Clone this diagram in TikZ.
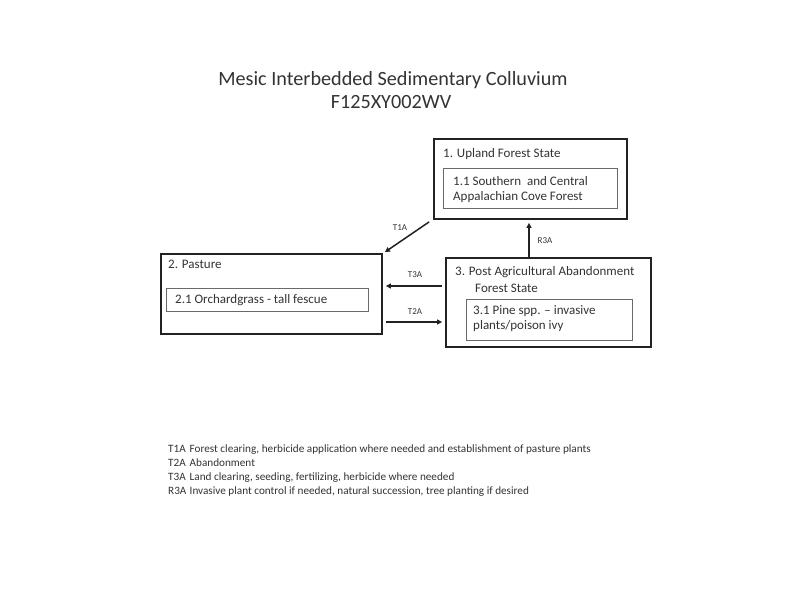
\documentclass[tikz,border=0pt]{standalone}
\usepackage{fontspec}
\setmainfont{Carlito}
\usetikzlibrary{arrows.meta,calc}
\definecolor{txt}{HTML}{333333}
\definecolor{edge}{HTML}{222222}
\definecolor{inner}{HTML}{6A6A6A}
\tikzset{
  outerbox/.style={draw=edge,line width=1.8pt,inner sep=0pt,minimum width=#1},
  innerbox/.style={draw=inner,line width=0.9pt,inner sep=0pt},
  boxtext/.style={anchor=base west,inner sep=0pt,text=txt,font=\fontsize{13}{15}\selectfont},
  arrlabel/.style={inner sep=0pt,text=txt,font=\fontsize{9}{10}\selectfont},
  legend/.style={anchor=base west,inner sep=0pt,text=txt,font=\fontsize{11.2}{13}\selectfont},
  conn/.style={draw=edge,line width=1.5pt,-{Triangle[length=5pt,width=5pt]}}
}
\newcommand{\lgcode}[1]{\makebox[21.5pt][l]{#1}}
\begin{document}
\begin{tikzpicture}[x=1pt,y=-1pt]
\useasboundingbox[fill=white] (0,0) rectangle (800,600);
% title
\node[inner sep=0pt,anchor=base,text=txt,font=\fontsize{20.2}{22}\selectfont] (t1) at (393,85) {Mesic Interbedded Sedimentary Colluvium};
\node[inner sep=0pt,anchor=base,text=txt,font=\fontsize{20.2}{22}\selectfont] (t2) at (391,108) {F125XY002WV};
% boxes
\node[outerbox=193pt,minimum height=80pt] (b1) at (530.5,179) {};
\node[innerbox,minimum width=174pt,minimum height=40pt] (i1) at (530,188) {};
\node[outerbox=221pt,minimum height=80pt] (b2) at (271.5,294) {};
\node[innerbox,minimum width=202pt,minimum height=23pt] (i2) at (267,299.5) {};
\node[outerbox=205pt,minimum height=89pt] (b3) at (548.5,302.5) {};
\node[innerbox,minimum width=166pt,minimum height=41pt] (i3) at (549,319.5) {};
% box texts
\node[boxtext] (s1) at (443,157) {1. Upland Forest State};
\node[boxtext] (s11a) at (453,185) {1.1 Southern\ \ and Central};
\node[boxtext] (s11b) at (453,200) {Appalachian Cove Forest};
\node[boxtext] (s2) at (168,268) {2. Pasture};
\node[boxtext] (s21) at (175,303) {2.1 Orchardgrass - tall fescue};
\node[boxtext] (s3a) at (455,275) {3. Post Agricultural Abandonment};
\node[boxtext] (s3b) at (475,292) {Forest State};
\node[boxtext] (s31a) at (473,314) {3.1 Pine spp. -- invasive};
\node[boxtext] (s31b) at (473,329) {plants/poison ivy};
% connectors
\coordinate (t1s) at ([xshift=-4pt,yshift=-2pt]b1.south west);
\coordinate (t1e) at ([xshift=2pt,yshift=1pt]b2.north east);
\draw[conn] (t1s) -- (t1e);
\node[arrlabel] (lt1) at (400,228) {T1A};
\coordinate (r3s) at ([xshift=-19.5pt]b3.north);
\draw[conn] (r3s) -- ([yshift=-3pt]r3s |- b1.south);
\node[arrlabel] (lr3) at (545,241) {R3A};
\coordinate (t3s) at ([xshift=-3pt,yshift=16.5pt]b3.west);
\draw[conn] (t3s) -- ([xshift=3pt]t3s -| b2.east);
\node[arrlabel] (lt3) at (415,275) {T3A};
\coordinate (t2s) at ([xshift=3pt,yshift=-28pt]b2.east);
\draw[conn] (t2s) -- ([xshift=-3pt]t2s -| b3.west);
\node[arrlabel] (lt2) at (415,312) {T2A};
% legend
\node[legend] (g1) at (168,452) {\lgcode{T1A}Forest clearing, herbicide application where needed and establishment of pasture plants};
\node[legend] (g2) at (168,466) {\lgcode{T2A}Abandonment};
\node[legend] (g3) at (168,480) {\lgcode{T3A}Land clearing, seeding, fertilizing, herbicide where needed};
\node[legend] (g4) at (168,494) {\lgcode{R3A}Invasive plant control if needed, natural succession, tree planting if desired};
\end{tikzpicture}
\end{document}
